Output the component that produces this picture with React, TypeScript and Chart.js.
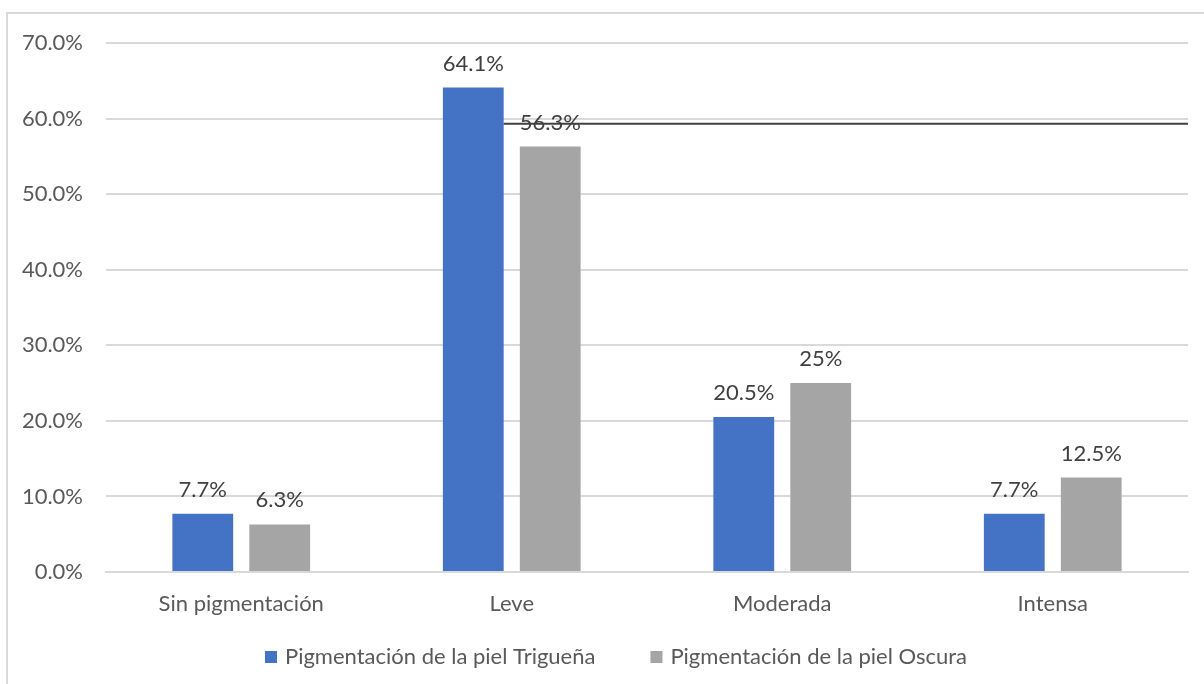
import React, { useEffect, useRef } from "react";
import { Chart, registerables } from "chart.js";

Chart.register(...registerables);

const categories = ["Sin pigmentación", "Leve", "Moderada", "Intensa"];
const seriesNames = ["Pigmentación de la piel Trigueña", "Pigmentación de la piel Oscura"];
const seriesColors = ["#4472C4", "#A5A5A5"];
const trigueña = [7.7, 64.1, 20.5, 7.7];
const oscura = [6.3, 56.3, 25, 12.5];
const trigueñaLabels = ["7.7%", "64.1%", "20.5%", "7.7%"];
const oscuraLabels = ["6.3%", "56.3%", "25%", "12.5%"];
const yTicks = [0, 10, 20, 30, 40, 50, 60, 70];
const refLineValue = 59.3;

const FONT = "Lato, 'Open Sans', sans-serif";
const FS = 22;

export default function App() {
  const ref = useRef<HTMLCanvasElement | null>(null);
  useEffect(() => {
    if (!ref.current) return;
    const labelSets = [trigueñaLabels, oscuraLabels];
    const plugin = {
      id: "custom",
      beforeDraw(chart: any) {
        const ctx = chart.ctx;
        ctx.save();
        ctx.fillStyle = "#ffffff";
        ctx.fillRect(0, 0, chart.width, chart.height);
        ctx.strokeStyle = "#d9d9d9";
        ctx.lineWidth = 2;
        ctx.strokeRect(7, 13, chart.width + 20, chart.height + 20);
        ctx.restore();
      },
      afterDatasetsDraw(chart: any) {
        const ctx = chart.ctx;
        ctx.save();
        ctx.font = `${FS}px ${FONT}`;
        ctx.fillStyle = "#404040";
        ctx.textAlign = "center";
        ctx.textBaseline = "middle";
        chart.data.datasets.forEach((ds: any, i: number) => {
          const meta = chart.getDatasetMeta(i);
          meta.data.forEach((el: any, j: number) => {
            ctx.fillText(labelSets[i][j], el.x, el.y - 24);
          });
        });
        const meta0 = chart.getDatasetMeta(0);
        const el = meta0.data[1];
        const y = chart.scales.y.getPixelForValue(refLineValue);
        ctx.strokeStyle = "#404040";
        ctx.lineWidth = 2;
        ctx.beginPath();
        ctx.moveTo(el.x + el.width / 2, y);
        ctx.lineTo(chart.chartArea.right, y);
        ctx.stroke();
        ctx.restore();
      },
      afterDraw(chart: any) {
        // legend
        const ctx = chart.ctx;
        ctx.save();
        ctx.font = `${FS}px ${FONT}`;
        ctx.textBaseline = "middle";
        ctx.textAlign = "left";
        const box = 12;
        const gap = 8;
        const spacing = 55;
        const widths = seriesNames.map((s) => ctx.measureText(s).width);
        const total = widths.reduce((a, w) => a + box + gap + w, 0) + spacing * (seriesNames.length - 1);
        let x = 616 - total / 2;
        const yc = 657;
        seriesNames.forEach((s, i) => {
          ctx.fillStyle = seriesColors[i];
          ctx.fillRect(x, yc - box / 2, box, box);
          x += box + gap;
          ctx.fillStyle = "#595959";
          ctx.fillText(s, x, yc);
          x += widths[i] + spacing;
        });
        ctx.restore();
      },
    };
    const chart = new Chart(ref.current, {
      type: "bar",
      data: {
        labels: categories,
        datasets: [
          { label: seriesNames[0], data: trigueña, backgroundColor: seriesColors[0] },
          { label: seriesNames[1], data: oscura, backgroundColor: seriesColors[1] },
        ],
      },
      options: {
        responsive: false,
        animation: false,
        layout: { padding: { left: 7, top: 43, right: 16, bottom: 52 } },
        datasets: { bar: { categoryPercentage: 0.569, barPercentage: 0.79 } },
        plugins: {
          tooltip: { enabled: false },
          legend: { display: false },
        },
        scales: {
          x: {
            grid: { display: false, drawTicks: false },
            border: { color: "#d9d9d9", width: 2 },
            ticks: {
              color: "#595959",
              font: { size: FS, family: FONT },
              padding: 19,
              autoSkip: false,
              maxRotation: 0,
              minRotation: 0,
            },
            afterFit(scale: any) {
              scale.height = 60;
            },
          },
          y: {
            min: 0,
            max: 70,
            afterBuildTicks(scale: any) {
              scale.ticks = yTicks.map((v) => ({ value: v }));
            },
            grid: { color: "#d9d9d9", lineWidth: 2, drawTicks: false },
            border: { display: false },
            ticks: {
              color: "#595959",
              font: { size: FS, family: FONT },
              padding: 23,
              callback: (v: any) => Number(v).toFixed(1) + "%",
            },
            afterFit(scale: any) {
              scale.width = 99;
            },
          },
        },
      },
      plugins: [plugin],
    });
    return () => chart.destroy();
  }, []);
  return (
    <div style={{ position: "absolute", left: 0, top: 0, width: 1204, height: 684 }}>
      <canvas ref={ref} width={1204} height={684} style={{ display: "block" }} />
    </div>
  );
}
